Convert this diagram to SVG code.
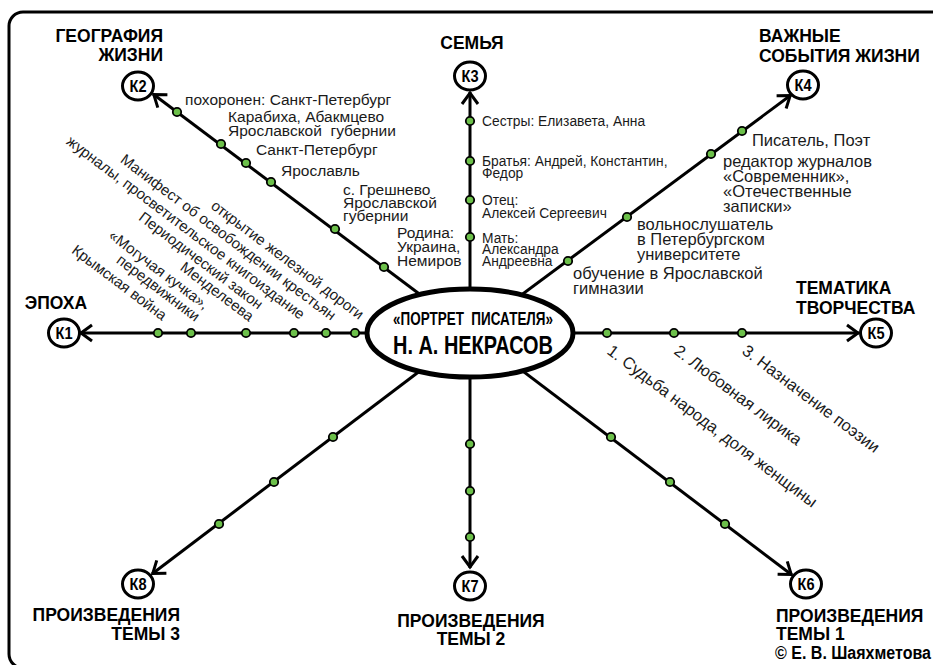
<svg xmlns="http://www.w3.org/2000/svg" width="933" height="665" viewBox="0 0 933 665">
  <defs>
    <marker id="arrow" markerUnits="userSpaceOnUse" markerWidth="18" markerHeight="20" viewBox="0 0 18 20" refX="15" refY="10" orient="auto">
      <path d="M3,2 L14,10 L3,18" fill="none" stroke="#000" stroke-width="3"/>
    </marker>
    <style>
      .frame { fill:none; stroke:#000; stroke-width:3 }
      .ray { fill:none; stroke:#000; stroke-width:3; marker-end:url(#arrow) }
      .dot { fill:#6cc04a; stroke:#000; stroke-width:1.8 }
      .kc { fill:#fff; stroke:#000; stroke-width:3 }
      .kt { font-family:"Liberation Sans", Arial, sans-serif; font-weight:bold; font-size:16px; text-anchor:middle; fill:#000 }
      .hd { font-family:"Liberation Sans", Arial, sans-serif; font-weight:bold; font-size:17.5px; fill:#000 }
      .lb { font-family:"Liberation Sans", Arial, sans-serif; fill:#1a1a1a }
      .s2 { font-size:15.5px }
      .s3 { font-size:13.8px }
      .s4 { font-size:16.5px }
      .s1 { font-size:15px; text-anchor:end }
      .s5 { font-size:16.5px }
      .mid { text-anchor:middle }
      .end { text-anchor:end }
      .ttl { font-family:"Liberation Sans", Arial, sans-serif; font-weight:bold; text-anchor:middle; fill:#000 }
    </style>
  </defs>

  <rect class="frame" x="9" y="12" width="945" height="656" rx="14"/>

  <!-- rays from the central portrait to the eight topics -->
  <g id="connectors">
    <path class="ray" d="M470,333 L80,333"/>
    <path class="ray" d="M470,332 L153,94"/>
    <path class="ray" d="M470,333 L470,92"/>
    <path class="ray" d="M470,333 L791,95"/>
    <path class="ray" d="M470,333 L859,333"/>
    <path class="ray" d="M470,331 L792,575"/>
    <path class="ray" d="M470,333 L470,568"/>
    <path class="ray" d="M470,333 L152,574"/>
  </g>

  <!-- stops along the rays -->
  <g id="stops">
    <circle class="dot" cx="158" cy="333" r="4.2"/>
    <circle class="dot" cx="191" cy="333" r="4.2"/>
    <circle class="dot" cx="246" cy="333" r="4.2"/>
    <circle class="dot" cx="294" cy="333" r="4.2"/>
    <circle class="dot" cx="326" cy="333" r="4.2"/>
    <circle class="dot" cx="355" cy="333" r="4.2"/>

    <circle class="dot" cx="177" cy="112" r="4.2"/>
    <circle class="dot" cx="221" cy="144" r="4.2"/>
    <circle class="dot" cx="246" cy="163" r="4.2"/>
    <circle class="dot" cx="271" cy="182" r="4.2"/>
    <circle class="dot" cx="335" cy="229" r="4.2"/>
    <circle class="dot" cx="384" cy="267" r="4.2"/>

    <circle class="dot" cx="470" cy="121" r="4.2"/>
    <circle class="dot" cx="470" cy="161" r="4.2"/>
    <circle class="dot" cx="470" cy="200" r="4.2"/>
    <circle class="dot" cx="470" cy="237" r="4.2"/>

    <circle class="dot" cx="568" cy="261" r="4.2"/>
    <circle class="dot" cx="627" cy="217" r="4.2"/>
    <circle class="dot" cx="711" cy="154" r="4.2"/>
    <circle class="dot" cx="742" cy="131" r="4.2"/>

    <circle class="dot" cx="607" cy="333" r="4.2"/>
    <circle class="dot" cx="674" cy="333" r="4.2"/>
    <circle class="dot" cx="742" cy="333" r="4.2"/>

    <circle class="dot" cx="611" cy="437" r="4.2"/>
    <circle class="dot" cx="670" cy="482" r="4.2"/>
    <circle class="dot" cx="725" cy="524" r="4.2"/>

    <circle class="dot" cx="470" cy="444" r="4.2"/>
    <circle class="dot" cx="470" cy="491" r="4.2"/>
    <circle class="dot" cx="470" cy="537" r="4.2"/>

    <circle class="dot" cx="333" cy="437" r="4.2"/>
    <circle class="dot" cx="274" cy="482" r="4.2"/>
    <circle class="dot" cx="219" cy="524" r="4.2"/>
  </g>

  <!-- central node -->
  <g id="portrait">
    <ellipse cx="470" cy="333" rx="103" ry="44" fill="#fff" stroke="#000" stroke-width="5"/>
    <text class="ttl" x="473" y="325" font-size="18" textLength="160" lengthAdjust="spacingAndGlyphs">«ПОРТРЕТ &#160;ПИСАТЕЛЯ»</text>
    <text class="ttl" x="473" y="354" font-size="26" textLength="160" lengthAdjust="spacingAndGlyphs">Н. А. НЕКРАСОВ</text>
  </g>

  <g id="k1">
    <ellipse class="kc" cx="64" cy="333" rx="15.5" ry="14"/>
    <text class="kt" x="64" y="339" textLength="17" lengthAdjust="spacingAndGlyphs">К1</text>
    <text class="hd mid" x="56" y="309">ЭПОХА</text>
    <g class="lb s1">
      <text transform="translate(359,320) rotate(37)">открытие железной дороги</text>
      <text transform="translate(331,321) rotate(37)">Манифест об освобождении крестьян</text>
      <text transform="translate(300,320) rotate(37)">журналы, просветительское книгоиздание</text>
      <text transform="translate(249,322) rotate(37)"><tspan x="0" y="-15">Периодический закон</tspan><tspan x="0" y="0">Менделеева</tspan></text>
      <text transform="translate(195,322) rotate(37)"><tspan x="0" y="-15">«Могучая кучка»,</tspan><tspan x="0" y="0">передвижники</tspan></text>
      <text transform="translate(162,321) rotate(37)">Крымская война</text>
    </g>
  </g>

  <g id="k2">
    <ellipse class="kc" cx="138" cy="86" rx="15.5" ry="14"/>
    <text class="kt" x="138" y="92" textLength="17" lengthAdjust="spacingAndGlyphs">К2</text>
    <text class="hd end" x="163" y="42">ГЕОГРАФИЯ</text>
    <text class="hd end" x="163" y="61">ЖИЗНИ</text>
    <g class="lb s2">
      <text x="185" y="105">похоронен: Санкт-Петербург</text>
      <text x="228" y="122">Карабиха, Абакмцево</text>
      <text x="228" y="136">Ярославской&#160; губернии</text>
      <text x="256" y="155">Санкт-Петербург</text>
      <text x="281" y="176">Ярославль</text>
      <text x="343" y="195">с. Грешнево</text>
      <text x="343" y="208">Ярославской</text>
      <text x="343" y="221">губернии</text>
      <text x="397" y="238">Родина:</text>
      <text x="397" y="252">Украина,</text>
      <text x="397" y="266">Немиров</text>
    </g>
  </g>

  <g id="k3">
    <ellipse class="kc" cx="470" cy="76" rx="15.5" ry="14"/>
    <text class="kt" x="470" y="82" textLength="17" lengthAdjust="spacingAndGlyphs">К3</text>
    <text class="hd mid" x="472" y="49">СЕМЬЯ</text>
    <g class="lb s3">
      <text x="482" y="126">Сестры: Елизавета, Анна</text>
      <text x="482" y="166">Братья: Андрей, Константин,</text>
      <text x="482" y="178">Федор</text>
      <text x="482" y="205">Отец:</text>
      <text x="482" y="218">Алексей Сергеевич</text>
      <text x="482" y="243">Мать:</text>
      <text x="482" y="254">Александра</text>
      <text x="482" y="266">Андреевна</text>
    </g>
  </g>

  <g id="k4">
    <ellipse class="kc" cx="803" cy="85" rx="15.5" ry="14"/>
    <text class="kt" x="803" y="91" textLength="17" lengthAdjust="spacingAndGlyphs">К4</text>
    <text class="hd" x="759" y="42">ВАЖНЫЕ</text>
    <text class="hd" x="759" y="62">СОБЫТИЯ ЖИЗНИ</text>
    <g class="lb s4">
      <text x="752" y="146">Писатель, Поэт</text>
      <text x="723" y="167">редактор журналов</text>
      <text x="723" y="182">«Современник»,</text>
      <text x="723" y="197">«Отечественные</text>
      <text x="723" y="212">записки»</text>
      <text x="637" y="230">вольнослушатель</text>
      <text x="637" y="245">в Петербургском</text>
      <text x="637" y="260">университете</text>
      <text x="573" y="279">обучение в Ярославской</text>
      <text x="573" y="294">гимназии</text>
    </g>
  </g>

  <g id="k5">
    <ellipse class="kc" cx="876" cy="333" rx="15.5" ry="14"/>
    <text class="kt" x="876" y="339" textLength="17" lengthAdjust="spacingAndGlyphs">К5</text>
    <text class="hd" x="796" y="294">ТЕМАТИКА</text>
    <text class="hd" x="796" y="314">ТВОРЧЕСТВА</text>
    <g class="lb s5">
      <text transform="translate(606,353) rotate(37)">1. Судьба народа, доля женщины</text>
      <text transform="translate(673,353) rotate(37)">2. Любовная лирика</text>
      <text transform="translate(741,353) rotate(37)">3. Назначение поэзии</text>
    </g>
  </g>

  <g id="k6">
    <ellipse class="kc" cx="806" cy="584" rx="15.5" ry="14"/>
    <text class="kt" x="806" y="590" textLength="17" lengthAdjust="spacingAndGlyphs">К6</text>
    <text class="hd" x="776" y="622">ПРОИЗВЕДЕНИЯ</text>
    <text class="hd" x="776" y="640">ТЕМЫ 1</text>
  </g>

  <g id="k7">
    <ellipse class="kc" cx="470" cy="586" rx="15.5" ry="14"/>
    <text class="kt" x="470" y="592" textLength="17" lengthAdjust="spacingAndGlyphs">К7</text>
    <text class="hd mid" x="471" y="627">ПРОИЗВЕДЕНИЯ</text>
    <text class="hd mid" x="471" y="645">ТЕМЫ 2</text>
  </g>

  <g id="k8">
    <ellipse class="kc" cx="138" cy="584" rx="15.5" ry="14"/>
    <text class="kt" x="138" y="590" textLength="17" lengthAdjust="spacingAndGlyphs">К8</text>
    <text class="hd end" x="180" y="621">ПРОИЗВЕДЕНИЯ</text>
    <text class="hd end" x="180" y="640">ТЕМЫ 3</text>
  </g>

  <text class="hd" x="775" y="659" font-size="15" textLength="156" lengthAdjust="spacingAndGlyphs">© Е. В. Шаяхметова</text>
</svg>
